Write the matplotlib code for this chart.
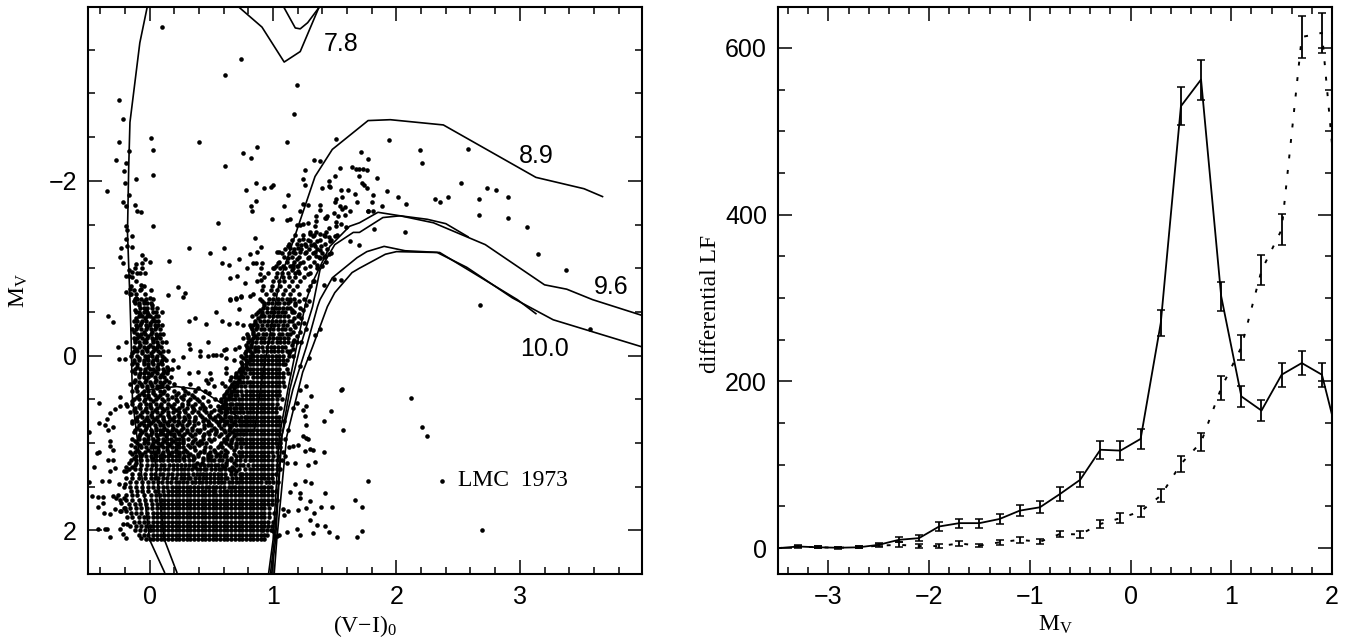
import matplotlib
matplotlib.use('Agg')
import matplotlib.pyplot as plt
from matplotlib.ticker import MultipleLocator

sparse_vi = [.10,.74,.61,1.19,1.17,-.25,-.22,-.25,.01,.03,.40,1.11,1.51,-.17,-.27,-.19,-.21,.03,.61,.76,.87,.82,-.11,-.20,-.35,-.17,-.22,-.19,-.12,-.10,-.07,.03,-.19,-.18,-.14,-.19,-.18,-.23,-.14,-.24,-.22,-.17,-.11,-.06,-.04,0,-.06,-.06,-.08,-.04,-.14,-.19,-.17,-.07,-.07,-.19,-.16,-.15,-.11,0,.15,.23,.29,.27,.16,.32,.49,.60,.55,.59,.64,.72,.81,.87,.90,.85,.65,.71,.77,.84,.86,.91,.79,.89,.90,.65,.70,.74,.81,.84,.91,.78,.86,.93,.98,1.0,1.12,.86,.82,.83,1.09,.99,1.11,1.14,
    1.24,1.26,1.26,1.33,1.38,1.54,1.50,1.45,1.45,1.40,1.46,1.55,1.61,1.66,1.56,1.51,1.50,1.68,1.64,1.67,1.70,1.73,1.76,1.70,1.72,1.74,1.76,1.71,1.77,1.77,1.24,1.28,1.22,1.38,1.38,1.35,1.35,1.42,1.44,1.49,1.54,1.56,1.58,1.62,1.58,1.53,1.51,1.55,1.59,1.43,1.51,1.45,1.43,1.35,1.30,1.34,1.28,1.19,1.22,1.24,
    1.30,1.32,1.38,1.42,1.45,1.46,1.50,1.36,1.30,1.24,1.23,1.27,1.31,1.34,1.39,1.20,1.16,1.12,1.14,1.22,1.27,1.34,1.38,1.45,1.47,1.42,1.35,1.28,1.19,1.12,1.03,1.05,1.04,1.01,1.16,1.19,1.15,1.18,1.20,1.22,1.28,1.36,1.38,1.32,1.41,1.49,1.55,1.70,1.62,
    1.94,2.19,2.21,2.58,1.84,2.52,2.73,2.81,2.90,2.67,2.67,2.90,3.06,3.15,3.37,2.42,2.35,2.31,2.08,2.01,1.92,1.81,1.80,1.88,1.77,1.81,1.82,2.07,3.57,2.68,2.12,2.21,2.25,2.37,2.69,1.55,
    1.56,1.47,1.57,1.41,1.77,1.42,1.66,1.72,1.72,1.68,1.52,1.45,1.42,1.36,1.30,1.32,1.39,1.48,1.33,1.27,1.30,1.20,1.22,1.22,1.14,1.18,1.31,1.26,1.34,1.28,1.41,1.32,1.30,1.26,1.27,1.24,1.28,1.20,1.16,1.18,1.11,1.27,1.26,1.27,1.24,1.31,1.27,1.22,1.19,1.16,1.22,1.29,1.38,1.34,1.27,1.19,1.23,
    -.34,-.30,-.26,-.25,-.19,-.20,-.41,-.49,-.41,-.36,-.35,-.32,-.28,-.24,-.18,-.24,-.30,-.34,-.32,-.32,-.30,-.41,-.43,-.34,-.30,-.45,-.32,-.28,-.39,-.33,-.49,-.47,-.42,-.38,-.38,-.42,-.37,-.32,-.30,-.26,-.23,-.28,-.23,-.20,-.42,-.36,-.35,-.32,-.24,-.22,-.19,-.07,1.0,1.03,1.05,1.11,1.19,1.22,1.09,1.12,1.08,
    .32,.37,.46,.54,.59,.64,.71,.76,.72,.65,.70,.74,.32,.33,.47,.41,.41,.47,.51,.54,.58,.60,.62,.27,.19,.32,.39,.49,.50,.47,.62,.62,.62,.59,.61,.68,.69,.23,.18,.15]
sparse_mv = [-3.76,-3.40,-3.21,-3.10,-2.77,-2.92,-2.71,-2.44,-2.49,-2.35,-2.44,-2.45,-2.48,-2.34,-2.24,-2.21,-2.11,-2.07,-2.17,-2.32,-2.39,-2.26,-2.02,-1.97,-1.88,-1.84,-1.76,-1.71,-1.72,-1.66,-1.64,-1.48,-1.48,-1.44,-1.37,-1.34,-1.25,-1.23,-1.24,-1.13,-1.06,-.98,-1.05,-1.15,-1.11,-1.07,-1.06,-1.0,-.95,-.94,-.96,-.91,-.91,-.81,-.76,-.73,-.76,-.70,-.66,-.66,-.69,-.78,-.72,-.67,-1.08,-1.23,-1.17,-1.23,-1.52,-1.06,-1.04,-1.11,-1.16,-1.18,-1.24,-1.35,-.89,-.91,-.83,-1.06,-1.06,-1.06,-1.0,-.93,-.87,-.65,-.66,-.68,-.68,-.70,-.75,-1.89,-1.98,-1.92,-1.93,-1.95,-1.84,-1.77,-1.71,-1.65,-1.71,-1.56,-1.55,-1.56,
    -2.02,-2.12,-1.95,-2.24,-2.23,-2.15,-2.06,-2.0,-1.94,-1.92,-1.93,-1.90,-1.89,-1.85,-1.82,-1.79,-1.76,-1.76,-2.16,-2.13,-2.14,-2.14,-2.12,-2.05,-1.98,-1.95,-1.92,-2.33,-2.25,-1.66,-1.74,-1.72,-1.66,-1.72,-1.67,-1.60,-1.54,-1.58,-1.60,-1.63,-1.71,-1.68,-1.70,-1.65,-1.61,-1.60,-1.53,-1.51,-1.47,-1.57,-1.48,-1.46,-1.42,-1.42,-1.42,-1.48,-1.52,-1.50,-1.50,-1.51,
    -1.39,-1.37,-1.39,-1.37,-1.36,-1.31,-1.37,-1.31,-1.31,-1.34,-1.27,-1.25,-1.27,-1.25,-1.25,-1.23,-1.19,-1.25,-1.23,-1.18,-1.19,-1.18,-1.21,-1.16,-1.17,-1.14,-1.14,-1.12,-1.10,-1.12,-1.19,-1.18,-1.06,-1.0,-1.04,-1.02,-.98,-.95,-.97,-1.06,-.93,-1.04,-1.12,-.85,-.81,-.88,-.86,-1.27,-1.31,
    -2.47,-2.35,-2.21,-2.37,-2.03,-1.98,-1.92,-1.89,-1.81,-1.79,-1.61,-1.57,-1.47,-1.16,-.98,-1.82,-1.76,-1.79,-1.74,-1.81,-1.88,-1.84,-1.76,-1.71,-1.66,-1.65,-1.45,-1.42,-.30,-.58,.49,.82,.92,1.43,2.0,.39,
    .38,.63,.85,.75,1.44,1.57,1.65,1.73,2.01,2.08,2.08,2.02,1.95,1.94,1.88,2.03,1.73,1.73,1.80,1.74,1.66,1.77,1.63,1.57,1.56,1.47,1.46,1.43,1.22,1.25,1.10,1.08,1.07,1.09,.94,.92,.96,1.02,1.04,1.23,1.23,.79,.69,.58,.62,.46,.35,.39,.54,.60,.12,.03,-.31,-.24,-.30,-.15,-.15,
    -.45,-.39,-.10,.04,-.16,.04,.54,.88,.77,.79,.73,.66,.61,.58,.58,.47,.82,.85,.98,1.04,1.08,1.10,1.12,1.19,1.20,1.28,1.32,1.29,1.44,1.43,1.45,1.61,1.62,1.62,1.69,1.73,1.80,1.81,1.61,1.60,1.69,1.76,1.78,1.74,1.99,1.99,1.98,2.08,1.98,2.04,2.09,2.09,2.01,2.07,2.05,2.02,1.98,2.05,1.82,1.78,1.76,
    -.40,-.43,-.36,-.5,-.40,-.36,-.37,-.35,-.53,-.64,-.65,-.67,-.13,-.08,-.15,-.05,0,0,-.01,-.01,-.01,-.06,-.08,.02,.05,.20,.19,.20,.27,.31,.03,.14,.20,.31,.35,.05,-.07,.13,.15,.16]

# crowded part of the CMD, one list of V-I per Mv row
dense_mv = [2.10,2.05,2.00,1.95,1.90,1.85,1.80,1.75,1.70,1.65,1.60,1.55,1.50,1.45,1.40,1.35,1.30,1.25,1.20,1.15,1.10,1.05,1.00,.95,.90,.85,.80,.75,.70,.65,.60,.55,.50,.45,.40,.35,.30,.25,.20,.15,.10,.05,0,-.05,-.10,-.15,-.20,-.25,-.30,-.35,-.40,-.45,-.50,-.55,-.60,-.65]
dense_vi = [
    [-.03,.03,.09,.15,.21,.27,.33,.39,.45,.51,.57,.63,.69,.75,.81,.87,.93],
    [-.09,-.01,.06,.12,.18,.24,.30,.36,.42,.48,.54,.60,.66,.72,.78,.84,.90,.95],
    [-.12,-.04,.03,.09,.15,.21,.27,.33,.39,.45,.51,.57,.63,.69,.75,.81,.87,.92,.98],
    [-.16,-.07,0,.06,.12,.18,.24,.30,.36,.42,.48,.54,.60,.66,.72,.78,.84,.90,.96],
    [-.13,-.05,.03,.09,.15,.21,.27,.33,.39,.45,.51,.57,.63,.69,.75,.81,.87,.93,1.0],
    [-.18,-.09,-.01,.06,.12,.18,.24,.30,.36,.42,.48,.54,.60,.66,.72,.78,.84,.90,.97],
    [-.15,-.07,.03,.09,.15,.21,.27,.33,.39,.45,.51,.57,.63,.69,.75,.81,.87,.93,1.01],
    [-.21,-.11,-.02,.06,.12,.18,.24,.30,.36,.42,.48,.54,.60,.66,.72,.78,.84,.90,.97],
    [-.17,-.08,.02,.09,.15,.21,.27,.33,.39,.45,.51,.57,.63,.69,.75,.81,.87,.93,.99],
    [-.24,-.14,-.04,.05,.12,.18,.24,.30,.36,.42,.48,.54,.60,.66,.72,.78,.84,.90,.96,1.03],
    [-.19,-.10,.01,.08,.15,.21,.27,.33,.39,.45,.51,.57,.63,.69,.75,.81,.87,.93,.99],
    [-.15,-.06,.04,.11,.18,.24,.30,.36,.42,.48,.53,.60,.66,.72,.78,.84,.90,.96,1.02],
    [-.21,-.11,-.01,.07,.14,.21,.27,.33,.39,.46,.51,.57,.64,.69,.75,.81,.87,.93,.98],
    [-.16,-.06,.03,.10,.17,.24,.30,.37,.42,.49,.55,.60,.67,.72,.78,.84,.90,.97,1.04],
    [-.19,-.09,.01,.07,.14,.21,.28,.33,.40,.46,.52,.58,.63,.70,.75,.81,.87,.93,.99],
    [-.14,-.04,.04,.11,.18,.25,.31,.38,.43,.49,.55,.61,.66,.73,.78,.84,.90,.96,1.02],
    [-.17,-.08,.01,.08,.15,.22,.28,.34,.41,.46,.53,.58,.64,.72,.81,.87,.93,.99,1.06],
    [-.12,-.02,.05,.12,.19,.25,.32,.37,.44,.50,.55,.62,.70,.76,.84,.90,.96,1.03],
    [-.15,-.07,.02,.08,.15,.21,.28,.35,.47,.52,.59,.66,.73,.81,.87,.93,.99,1.07],
    [-.11,-.03,.05,.12,.18,.24,.31,.39,.50,.57,.62,.73,.78,.84,.90,.96,1.04,1.10],
    [-.16,-.09,.01,.07,.15,.21,.27,.44,.53,.63,.72,.81,.87,.93,.99,1.08],
    [-.12,-.03,.04,.11,.18,.24,.33,.49,.59,.66,.74,.78,.84,.90,.96,1.03,1.13],
    [-.10,-.01,.07,.14,.21,.27,.38,.46,.62,.70,.76,.81,.87,.93,.99,1.06],
    [-.14,-.05,.03,.11,.17,.24,.31,.43,.52,.63,.71,.75,.78,.84,.90,.96,1.02,1.10],
    [-.08,.01,.08,.14,.20,.28,.37,.48,.58,.69,.73,.78,.81,.87,.93,.99,1.05],
    [-.12,-.04,.05,.11,.18,.25,.34,.41,.54,.64,.71,.75,.79,.84,.90,.96,1.02,1.12],
    [-.09,-.01,.08,.15,.22,.30,.44,.50,.60,.67,.73,.77,.81,.87,.93,.99,1.05],
    [-.14,-.05,.03,.12,.20,.27,.36,.47,.57,.63,.69,.75,.79,.84,.90,.96,1.02,1.09],
    [-.10,-.02,.06,.16,.24,.32,.42,.53,.61,.66,.71,.77,.81,.87,.93,.99,1.05],
    [-.16,-.06,.02,.10,.19,.29,.39,.50,.58,.63,.68,.73,.79,.84,.90,.96,1.02],
    [-.12,-.03,.06,.14,.24,.35,.45,.60,.65,.70,.75,.81,.87,.93,.99,1.06],
    [-.19,-.08,0,.09,.20,.31,.42,.62,.67,.72,.78,.84,.90,.96,1.03],
    [-.13,-.04,.05,.15,.27,.38,.53,.64,.69,.75,.81,.87,.93,.99,1.07],
    [-.09,-.01,.08,.21,.34,.60,.66,.71,.78,.84,.90,.96,1.02],
    [-.14,-.05,.03,.12,.29,.45,.63,.68,.74,.81,.87,.93,.99,1.05],
    [-.10,-.02,.06,.10,.52,.66,.71,.77,.84,.90,.96,1.02,1.09],
    [-.13,-.04,.04,.12,.68,.73,.79,.81,.87,.93,.99,1.05],
    [-.09,-.01,.08,.17,.66,.71,.76,.84,.90,.96,1.02,1.08],
    [-.12,-.05,.02,.11,.70,.77,.81,.87,.93,.99,1.05,1.12],
    [-.08,0,.07,.15,.73,.79,.84,.90,.96,1.02],
    [-.14,-.05,.03,.10,.75,.81,.87,.93,.99,1.05,1.10],
    [-.09,-.01,.06,.13,.78,.84,.90,.96,1.02,1.08],
    [-.15,-.04,.02,.10,.74,.81,.87,.93,.99,1.05,1.13],
    [-.10,-.02,.07,.15,.78,.85,.92,.98,1.04,1.11],
    [-.13,-.05,.03,.09,.72,.82,.88,.95,1.01,1.07],
    [-.09,-.03,.06,.13,.80,.86,.93,.99,1.06,1.12],
    [-.13,-.06,.02,.08,.76,.84,.90,.97,1.03,1.09],
    [-.10,-.04,.05,.11,.79,.88,.94,1.0,1.07,1.14],
    [-.14,-.07,.01,.08,.83,.90,.97,1.04,1.10],
    [-.11,-.03,.04,.10,.81,.87,.95,1.01,1.08],
    [-.13,-.06,.02,.07,.85,.93,.99,1.06,1.13],
    [-.09,-.02,.05,.83,.90,.97,1.03,1.09],
    [-.11,-.05,.03,.10,.88,.95,1.01,1.07,1.15],
    [-.08,-.02,.06,.92,.99,1.05,1.11],
    [-.12,-.05,.01,.96,1.03,1.09],
    [-.10,-.03,.89,1.0,1.07,1.14],
]

# more stars between the rows above, the blob is nearly solid in the reference
fill_mv = [2.10,2.05,2.00,1.95,1.90,1.85,1.80,1.75,1.70,1.65,1.60,1.55,1.50,1.45,1.40,1.35,1.30,1.25,1.20,1.15,1.10,1.05,1.00,.95,.90,.85,.80,.75,.70,.65,.60,.55,.50,.45,.40,.35,.30,.25,.20,.15,.10,.05,0,-.05,-.10,-.15,-.20,-.25,-.30,-.35,-.40,-.45,-.50,-.55,-.60,-.65,-.70,-.75,-.80,-.85,-.90,-.95,-1.0]
fill_vi = [
    [0,.06,.12,.18,.24,.30,.36,.42,.48,.54,.60,.66,.72,.78,.84,.90],
    [-.05,.03,.09,.15,.21,.27,.33,.39,.45,.51,.57,.63,.69,.75,.81,.87,.93],
    [-.08,0,.06,.12,.18,.24,.30,.36,.42,.48,.54,.60,.66,.72,.78,.84,.90,.95],
    [-.11,-.03,.03,.09,.15,.21,.27,.33,.39,.45,.51,.57,.63,.69,.75,.81,.87,.93,.99],
    [-.09,-.01,.06,.12,.18,.24,.30,.36,.42,.48,.54,.60,.66,.72,.78,.84,.90,.96],
    [-.14,-.05,.03,.09,.15,.21,.27,.33,.39,.45,.51,.57,.63,.69,.75,.81,.87,.93],
    [-.11,-.02,.06,.12,.18,.24,.30,.36,.42,.48,.54,.60,.66,.72,.78,.84,.90,.97],
    [-.16,-.07,.02,.09,.15,.21,.27,.33,.39,.45,.51,.57,.63,.69,.75,.81,.87,.93],
    [-.12,-.03,.06,.12,.18,.24,.30,.36,.42,.48,.54,.60,.66,.72,.78,.84,.90,.96],
    [-.19,-.09,.01,.09,.15,.21,.27,.33,.39,.45,.51,.57,.63,.69,.75,.81,.87,.93,.99],
    [-.14,-.05,.05,.12,.18,.24,.30,.36,.42,.48,.54,.60,.66,.72,.78,.84,.90,.96],
    [-.10,-.01,.07,.15,.21,.27,.33,.39,.45,.51,.57,.63,.69,.75,.81,.87,.93,.99],
    [-.16,-.06,.03,.11,.18,.24,.30,.36,.42,.48,.54,.60,.67,.72,.78,.84,.90,.96],
    [-.11,-.01,.07,.14,.21,.27,.34,.40,.46,.52,.58,.64,.70,.75,.81,.87,.94,1.0],
    [-.14,-.04,.04,.11,.18,.25,.31,.37,.43,.49,.55,.61,.67,.73,.78,.84,.90,.96],
    [-.09,.01,.08,.15,.22,.28,.35,.41,.46,.52,.58,.69,.75,.81,.87,.93,.99],
    [-.12,-.03,.05,.12,.19,.25,.31,.38,.44,.50,.56,.61,.68,.77,.84,.90,.96,1.03],
    [-.07,.02,.09,.16,.22,.29,.35,.41,.47,.53,.59,.73,.80,.87,.93,.99],
    [-.11,-.02,.05,.11,.18,.24,.32,.43,.50,.56,.63,.70,.77,.84,.90,.96,1.03],
    [-.07,.01,.08,.15,.21,.28,.35,.47,.54,.60,.70,.75,.81,.87,.93,1.0],
    [-.12,-.04,.04,.11,.18,.24,.30,.41,.49,.58,.75,.78,.84,.90,.96,1.03],
    [-.07,.01,.07,.14,.21,.27,.36,.45,.55,.70,.81,.87,.93,.99,1.06],
    [-.05,.03,.10,.17,.24,.34,.42,.58,.66,.73,.78,.84,.90,.96,1.02],
    [-.09,-.01,.07,.14,.21,.27,.37,.48,.60,.67,.73,.81,.87,.93,.99,1.06],
    [-.03,.05,.11,.17,.24,.33,.44,.53,.64,.71,.76,.84,.90,.96,1.02],
    [-.08,.01,.08,.14,.21,.30,.38,.50,.60,.68,.73,.77,.81,.87,.93,.99,1.05],
    [-.05,.04,.11,.18,.26,.36,.47,.56,.64,.70,.75,.79,.84,.90,.96,1.02],
    [-.10,-.01,.07,.16,.23,.32,.43,.54,.60,.66,.72,.77,.81,.87,.93,.99,1.05],
    [-.06,.02,.11,.20,.28,.37,.49,.57,.64,.69,.74,.79,.84,.90,.96,1.02],
    [-.11,-.02,.06,.15,.24,.34,.46,.61,.66,.71,.76,.81,.87,.93,.99],
    [-.08,.01,.10,.19,.30,.41,.58,.63,.68,.73,.78,.84,.90,.96,1.02],
    [-.14,-.03,.05,.15,.26,.37,.60,.65,.70,.75,.81,.87,.93,.99],
    [-.09,0,.10,.21,.33,.58,.62,.67,.72,.78,.84,.90,.96,1.03],
    [-.05,.04,.14,.28,.64,.69,.75,.81,.87,.93,.99,1.05],
    [-.10,-.01,.08,.20,.37,.66,.71,.78,.84,.90,.96,1.02],
    [-.06,.02,.08,.14,.69,.74,.81,.87,.93,.99,1.05],
    [-.09,0,.08,.16,.71,.76,.84,.90,.96,1.02,1.08],
    [-.05,.04,.12,.69,.73,.79,.87,.93,.99,1.05],
    [-.08,-.01,.06,.14,.74,.84,.90,.96,1.02,1.08],
    [-.12,-.04,.03,.11,.76,.81,.87,.93,.99,1.05,1.11],
    [-.10,-.01,.07,.78,.84,.90,.96,1.02,1.08],
    [-.13,-.05,.03,.10,.81,.87,.93,.99,1.05,1.11],
    [-.10,-.01,.06,.78,.84,.90,.96,1.02,1.08,1.16],
    [-.13,-.06,.03,.11,.81,.88,.95,1.01,1.07,1.14],
    [-.09,-.01,.06,.79,.85,.91,.98,1.04,1.10],
    [-.12,-.05,.03,.10,.83,.90,.96,1.03,1.09,1.16],
    [-.10,-.02,.05,.80,.87,.93,1.0,1.06,1.12],
    [-.07,.01,.08,.84,.92,.98,1.05,1.11],
    [-.11,-.03,.04,.86,.93,1.0,1.07,1.14],
    [-.08,0,.07,.84,.91,.98,1.04,1.11,1.17],
    [-.10,-.03,.04,.89,.96,1.02,1.09,1.15],
    [-.06,0,.07,.93,1.0,1.06,1.12,1.20],
    [-.09,-.02,.05,.91,.98,1.04,1.10,1.17],
    [-.05,.02,.95,1.02,1.08,1.14,1.22],
    [-.09,-.02,.93,.99,1.05,1.12,1.18],
    [-.12,-.07,.03,.97,1.04,1.11,1.17,1.25],
    [-.16,-.11,-.04,.94,1.01,1.08,1.14,1.21],
    [-.13,-.08,.01,.98,1.03,1.10,1.16,1.28],
    [-.15,-.05,.92,.99,1.06,1.13,1.19,1.30],
    [-.11,.87,1.0,1.05,1.09,1.15,1.22,1.33],
    [-.14,.93,1.02,1.08,1.13,1.18,1.25],
    [-.10,.96,1.03,1.07,1.12,1.21,1.30],
    [-.12,.90,1.0,1.06,1.10,1.16,1.26,1.36],
]

# stars of the middle region and the edges, between the row positions
mid_mv = [1.925,1.775,1.625,1.475,1.325,1.275,1.225,1.175,1.125,1.075,1.025,.975,.925,.875,.825,.775,.725,.675,.625,.575,.525,.475,.425,.375,.325,.275,.225,.175,.125,.075,.025,-.025,-.075,-.125,-.175,-.225,-.275,-.325,-.375,-.425,-.475,-.525,-.575,-.625,-1.025,-1.075,-1.125,-1.175,-1.225,-1.275,-1.325,-1.375]
mid_vi = [
    [-.22,-.18],
    [-.24,-.19],
    [-.27,-.21],
    [-.25,-.20],
    [-.21,-.19,.66,.70],
    [-.19,-.14,.37,.60,.67],
    [-.17,-.11,.38,.42,.62,.68],
    [-.13,.02,.09,.27,.36,.43,.47,.66],
    [-.14,-.06,.04,.10,.16,.24,.33,.39,.47,.55,.61,.68],
    [-.10,-.01,.07,.14,.21,.29,.37,.44,.52,.61,.68],
    [-.15,-.08,.02,.09,.16,.23,.31,.40,.57,.64,.70],
    [-.12,-.04,.05,.12,.19,.27,.35,.41,.50,.60,.66],
    [-.09,-.01,.06,.13,.20,.26,.34,.43,.56,.63,.68],
    [-.13,-.06,.02,.09,.16,.23,.30,.40,.47,.54,.61,.67],
    [-.10,-.03,.05,.12,.19,.27,.34,.44,.52,.58,.65],
    [-.14,-.07,.01,.08,.14,.24,.32,.39,.48,.55,.62,.68],
    [-.11,-.03,.04,.11,.18,.29,.37,.45,.51,.59,.66],
    [-.08,.01,.08,.15,.23,.31,.41,.48,.55,.61],
    [-.13,-.04,.04,.12,.21,.28,.36,.44,.52,.56,.62],
    [-.09,0,.08,.17,.26,.34,.43,.49,.55,.59],
    [-.14,-.05,.03,.12,.22,.31,.40,.47,.58,.61],
    [-.10,-.01,.07,.18,.25,.36,.43,.60,.64],
    [-.06,.03,.11,.23,.31,.48,.62,.66],
    [-.11,-.02,.06,.15,.27,.39,.64,.68],
    [-.16,-.07,.01,.10,.20,.33,.67,.71],
    [-.12,-.03,.05,.13,.46,.65,.72],
    [-.09,.01,.09,.70,.74],
    [-.14,-.04,.04,.12,.72,.75],
    [-.10,-.01,.06,.14,.75,.78],
    [-.13,-.05,.02,.09,.74,.79],
    [-.09,-.02,.05,.12,.76,.81],
    [-.14,-.06,.01,.08,.77,.83,1.13],
    [-.11,-.03,.04,.80,.85,1.16],
    [-.08,0,.07,.78,.82,1.15],
    [-.12,-.04,.03,.82,1.17],
    [-.09,-.01,.06,.80,.85,1.19],
    [-.13,-.05,.02,.84,1.16,1.22],
    [-.10,-.02,.05,.82,.87,1.18],
    [-.07,0,.85,1.20,1.25],
    [-.11,-.04,.03,.88,1.17,1.23],
    [-.08,-.01,.86,.91,1.21],
    [-.12,-.03,.89,1.15,1.24],
    [-.09,.02,.93,1.18,1.27],
    [-.13,-.05,.91,1.14,1.21,1.29],
    [1.02,1.08,1.14,1.20,1.30,1.40],
    [1.05,1.11,1.17,1.24,1.33,1.43],
    [1.09,1.15,1.21,1.29,1.37,1.41],
    [1.07,1.13,1.18,1.26,1.32,1.40],
    [1.10,1.17,1.23,1.29,1.36,1.44],
    [1.13,1.19,1.26,1.33,1.42],
    [1.15,1.21,1.28,1.38,1.47],
    [1.18,1.24,1.33,1.41,1.52],
]

# isochrones as (V-I, Mv) vertices
ms1_vi = [-.02,-.08,-.16,-.17,-.18,-.16,-.15,-.14,0,.12]
ms1_mv = [-3.99,-3.58,-2.67,-2.16,-1.41,-.64,-.18,.5,2.11,2.48]
ms2_vi = [0,.06,.12,.22]
ms2_mv = [.73,1.4,2.11,2.48]
loop_vi = [0,.105,.22,.41,.62,.73]
loop_mv = [.39,.37,.355,.39,.58,.73]
iso78a_vi = [.73,.91,1.09,1.22,1.37]
iso78a_mv = [-3.98,-3.76,-3.36,-3.48,-3.98]
iso78b_vi = [1.09,1.18,1.22,1.28,1.37]
iso78b_mv = [-3.98,-3.75,-3.74,-3.81,-3.98]
iso89_vi = [3.67,3.52,3.13,2.38,1.95,1.77,1.48,1.34,1.05,.91,.85]
iso89_mv = [-1.82,-1.91,-2.04,-2.64,-2.70,-2.69,-2.36,-2.05,-.84,.27,.85]
iso96a_vi = [2.58,2.40,2.25,2.03,1.85,1.70,1.62,1.46,1.32,1.27,1.19,1.12,1.05,1.0,.965]
iso96a_mv = [-1.36,-1.51,-1.56,-1.60,-1.64,-1.52,-1.48,-1.25,-.84,-.64,-.10,.39,.93,2.11,2.48]
iso96b_vi = [3.99,3.59,3.38,3.20,2.72,2.30,2.03,1.89,1.70,1.65,1.50,1.38,1.32,1.22,1.135,1.07,1.01,.98]
iso96b_mv = [-.46,-.64,-.76,-.81,-1.27,-1.52,-1.60,-1.58,-1.41,-1.41,-1.27,-.98,-.56,-.10,.39,.93,2.11,2.48]
iso100a_vi = [3.13,2.98,2.35,2.07,1.90,1.76,1.68,1.48,1.38,1.36,1.27,1.16,1.07,1.02,.99]
iso100a_mv = [-.48,-.64,-1.18,-1.20,-1.25,-1.19,-1.12,-.89,-.64,-.56,-.10,.39,.93,2.11,2.48]
iso100b_vi = [3.99,3.27,2.94,2.57,2.33,2.0,1.91,1.70,1.64,1.50,1.44,1.32,1.24,1.11,1.03,1.01]
iso100b_mv = [-.10,-.41,-.66,-1.01,-1.18,-1.19,-1.16,-1.0,-.95,-.72,-.56,-.10,.19,.93,2.11,2.48]

# luminosity functions
lf_mv = [-3.5,-3.3,-3.1,-2.9,-2.7,-2.5,-2.3,-2.1,-1.9,-1.7,-1.5,-1.3,-1.1,-.9,-.7,-.5,-.3,-.1,.1,.3,.5,.7,.9,1.1,1.3,1.5,1.7,1.9,2.1]
lf_solid = [0,2,1,.5,1,4,10,12,26,30,30,35,45,49,65,82,118,117,131,270,530,562,302,182,165,208,222,208,112]
err_solid = [0,1.5,1,1,1,2,3,4,5,5.5,5.5,6,6.5,7,8,9,11,11,11.6,16,23,24,17,13,13,14.6,14.8,14.5,10]
lf_dotted = [0,2,1,.5,1,3,4,2.5,2.5,5.6,3,7,10,7.6,17,16.5,29,36,44,63,101,127,192,241,333,382,613,618,352]
err_dotted = [0,1,1,.5,1,1.5,3,2.5,2,2.5,2,3,3.5,3,4,4.6,5,6,6.6,8,10,11,14,15,18,19,25,24,20]

plt.rcParams['font.family'] = ['Liberation Sans', 'DejaVu Sans']
plt.rcParams['mathtext.default'] = 'regular'
SERIF = ['Liberation Serif', 'DejaVu Serif']

fig = plt.figure(figsize=(13.47, 6.44), dpi=100)
ax1 = fig.add_axes([88/1347, 70/644, 554/1347, 567/644])
ax2 = fig.add_axes([778/1347, 70/644, 554/1347, 567/644])


def style_axes(ax):
    ax.tick_params(which='both', direction='in', top=True, right=True, width=1.1, labelsize=18, pad=8)
    ax.tick_params(which='major', length=10)
    ax.tick_params(which='minor', length=5)
    for spine in ax.spines.values():
        spine.set_linewidth(1.5)


# left panel
ax1.plot(sparse_vi, sparse_mv, 'o', color='k', ms=3.3, mew=0)
for mv_rows, vi_rows in [(dense_mv, dense_vi), (fill_mv, fill_vi), (mid_mv, mid_vi)]:
    for mv, row in zip(mv_rows, vi_rows):
        ax1.plot(row, [mv] * len(row), 'o', color='k', ms=3.3, mew=0)
for xs, ys in [(ms1_vi, ms1_mv), (ms2_vi, ms2_mv), (loop_vi, loop_mv),
               (iso78a_vi, iso78a_mv), (iso78b_vi, iso78b_mv), (iso89_vi, iso89_mv),
               (iso96a_vi, iso96a_mv), (iso96b_vi, iso96b_mv),
               (iso100a_vi, iso100a_mv), (iso100b_vi, iso100b_mv)]:
    ax1.plot(xs, ys, color='k', lw=1.2)

ax1.set_xlim(-.5, 3.99)
ax1.set_ylim(2.5, -3.99)
ax1.xaxis.set_major_locator(MultipleLocator(1))
ax1.xaxis.set_minor_locator(MultipleLocator(.2))
ax1.yaxis.set_major_locator(MultipleLocator(2))
ax1.yaxis.set_minor_locator(MultipleLocator(.5))
style_axes(ax1)
ax1.text(1.41, -3.57, '7.8', fontsize=18, va='center')
ax1.text(2.99, -2.28, '8.9', fontsize=18, va='center')
ax1.text(3.60, -.78, '9.6', fontsize=18, va='center')
ax1.text(3.0, -.08, '10.0', fontsize=18, va='center')
ax1.text(2.5, 1.43, 'LMC  1973', fontsize=17, va='center', family=SERIF)
ax1.set_xlabel(r'(V$-$I)$_0$', fontsize=17, family=SERIF, labelpad=3)
ax1.set_ylabel(r'M$_V$', fontsize=17, family=SERIF, labelpad=13)

# right panel
ax2.plot(lf_mv, lf_solid, color='k', lw=1.3)
ax2.plot(lf_mv, lf_dotted, color='k', lw=1.4, linestyle=(0, (2, 6)))
ax2.errorbar(lf_mv, lf_solid, yerr=err_solid, fmt='none', ecolor='k', elinewidth=1.3, capsize=2.9, capthick=1.1)
ax2.errorbar(lf_mv, lf_dotted, yerr=err_dotted, fmt='none', ecolor='k', elinewidth=1.3, capsize=2.9, capthick=1.1)

ax2.set_xlim(-3.5, 2)
ax2.set_ylim(-31, 649)
ax2.xaxis.set_major_locator(MultipleLocator(1))
ax2.xaxis.set_minor_locator(MultipleLocator(.2))
ax2.yaxis.set_major_locator(MultipleLocator(200))
ax2.yaxis.set_minor_locator(MultipleLocator(50))
style_axes(ax2)
ax2.set_xlabel(r'M$_V$', fontsize=17, family=SERIF, labelpad=3)
ax2.set_ylabel('differential LF', fontsize=17, family=SERIF, y=.476, labelpad=3)

fig.savefig('out.png', dpi=100)
